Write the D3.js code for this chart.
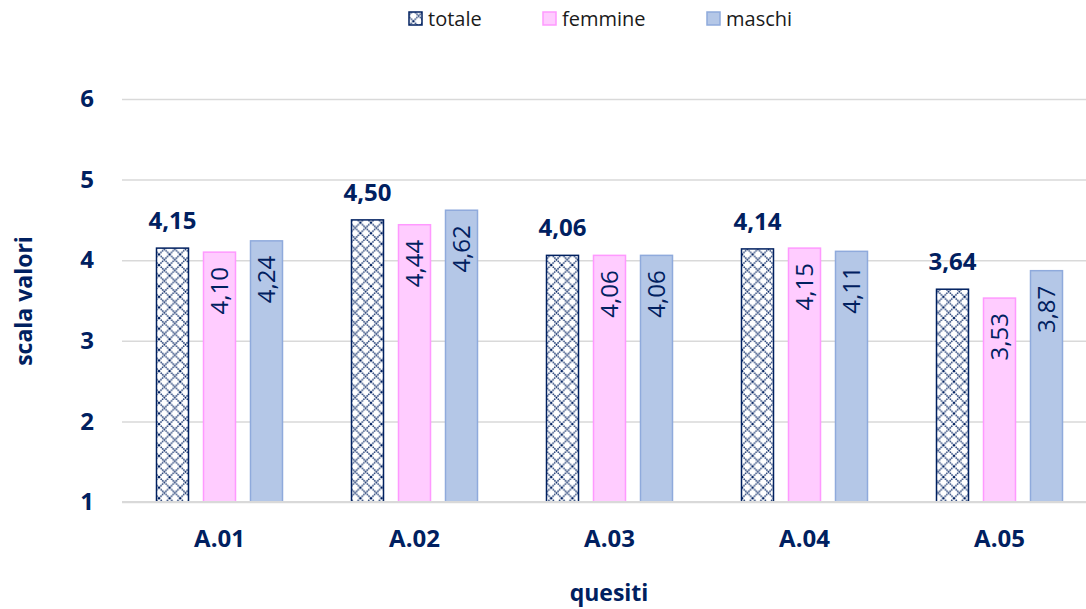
<!DOCTYPE html>
<html>
<head>
<meta charset="utf-8">
<script src="https://cdn.jsdelivr.net/npm/d3@7"></script>
<style>
  body { margin: 0; background: #fff; }
  svg { font-family: "Open Sans", sans-serif; }
</style>
</head>
<body>
<script type="text/javascript">
var w = 1086;
var h = 609;

// DATA
var categories = ["A.01", "A.02", "A.03", "A.04", "A.05"];
var series = ["totale", "femmine", "maschi"];
var totale = [4.15, 4.50, 4.06, 4.14, 3.64];
var femmine = [4.10, 4.44, 4.06, 4.15, 3.53];
var maschi = [4.24, 4.62, 4.06, 4.11, 3.87];
var yTicks = [1, 2, 3, 4, 5, 6];

var values = {totale: totale, femmine: femmine, maschi: maschi};
var navy = "#002060";
var fills = {totale: "url(#hatch)", femmine: "#ffccff", maschi: "#b4c7e7"};
var strokes = {totale: navy, femmine: "#ff99ff", maschi: "#8faadc"};

var Xscale = d3.scaleBand().domain(categories).range([122, 1097]);
var Xinner = d3.scaleBand().domain(series).range([34.5, 160.5]).paddingInner(15 / 47);
var Yscale = d3.scaleLinear().domain([1, 6]).range([502, 99]);

// MAIN SVG
const svg = d3.select("body").append("svg").attr("width", w).attr("height", h);

// crosshatch pattern for "totale"
var defs = svg.append("defs");
var pat = defs.append("pattern").attr("id", "hatch").attr("patternUnits", "userSpaceOnUse")
  .attr("width", 10.6).attr("height", 10.6);
pat.append("rect").attr("width", 10.6).attr("height", 10.6).attr("fill", "#fff");
pat.append("path").attr("d", "M0,0L10.6,10.6M10.6,0L0,10.6")
  .attr("stroke", navy).attr("stroke-width", 1.4).attr("stroke-dasharray", "1.5,0.8");

// GRID + Y AXIS
var yAxis = svg.append("g").attr("transform", "translate(122,0)")
  .call(d3.axisLeft(Yscale).tickValues(yTicks).tickSize(-975).tickPadding(28).tickFormat(d3.format("d")));
yAxis.select(".domain").remove();
yAxis.selectAll(".tick line").attr("stroke", "#d9d9d9").attr("stroke-width", 1.5);
yAxis.selectAll(".tick text").attr("fill", navy).attr("font-size", 24).attr("font-weight", "bold")
  .attr("font-family", "'Open Sans', sans-serif");

// X AXIS
var xAxis = svg.append("g").attr("transform", "translate(0,502)")
  .call(d3.axisBottom(Xscale).tickSize(0).tickPadding(28));
xAxis.select(".domain").remove();
xAxis.selectAll(".tick text").attr("fill", navy).attr("font-size", 24).attr("font-weight", "bold")
  .attr("font-family", "'Open Sans', sans-serif");

// BARS
series.forEach(function (s) {
  var g = svg.append("g");
  g.selectAll("rect").data(categories).enter().append("rect")
    .attr("x", function (c) { return Xscale(c) + Xinner(s); })
    .attr("y", function (c, i) { return Yscale(values[s][i]); })
    .attr("width", Xinner.bandwidth())
    .attr("height", function (c, i) { return Yscale(1) - Yscale(values[s][i]); })
    .attr("fill", fills[s])
    .attr("stroke", strokes[s])
    .attr("stroke-width", 1.5);

  var fmt = function (v) { return v.toFixed(2).replace(".", ","); };
  if (s === "totale") {
    g.selectAll("text").data(categories).enter().append("text")
      .attr("x", function (c) { return Xscale(c) + Xinner(s) + Xinner.bandwidth() / 2; })
      .attr("y", function (c, i) { return Yscale(values[s][i]) - 19; })
      .attr("text-anchor", "middle").attr("font-size", 24).attr("font-weight", "bold").attr("fill", navy)
      .text(function (c, i) { return fmt(values[s][i]); });
  } else {
    g.selectAll("text").data(categories).enter().append("text")
      .attr("transform", function (c, i) {
        var cx = Xscale(c) + Xinner(s) + Xinner.bandwidth() / 2;
        var cy = Yscale(values[s][i]) + 15;
        return "translate(" + cx + "," + cy + ") rotate(-90)";
      })
      .attr("text-anchor", "end").attr("dy", "0.36em").attr("font-size", 24).attr("fill", navy)
      .text(function (c, i) { return fmt(values[s][i]); });
  }
});

// BASELINE
svg.append("line").attr("x1", 122).attr("x2", 1097).attr("y1", 502).attr("y2", 502)
  .attr("stroke", "#d9d9d9").attr("stroke-width", 2);

// AXIS TITLES
svg.append("text").attr("transform", "translate(32,301) rotate(-90)")
  .attr("text-anchor", "middle").attr("font-size", 23).attr("font-weight", "bold").attr("fill", navy)
  .text("scala valori");
svg.append("text").attr("x", 609).attr("y", 601)
  .attr("text-anchor", "middle").attr("font-size", 23).attr("font-weight", "bold").attr("fill", navy)
  .text("quesiti");

// LEGEND
var legendX = {totale: 409, femmine: 543, maschi: 707};
var legend = svg.append("g");
series.forEach(function (s) {
  legend.append("rect").attr("x", legendX[s]).attr("y", 12).attr("width", 13).attr("height", 13)
    .attr("fill", s === "totale" ? "url(#hatch)" : fills[s]).attr("stroke", strokes[s]).attr("stroke-width", 1.5);
  legend.append("text").attr("x", legendX[s] + 19).attr("y", 26)
    .attr("font-size", 20).attr("fill", "#1a1a1a").text(s);
});
</script>
</body>
</html>
